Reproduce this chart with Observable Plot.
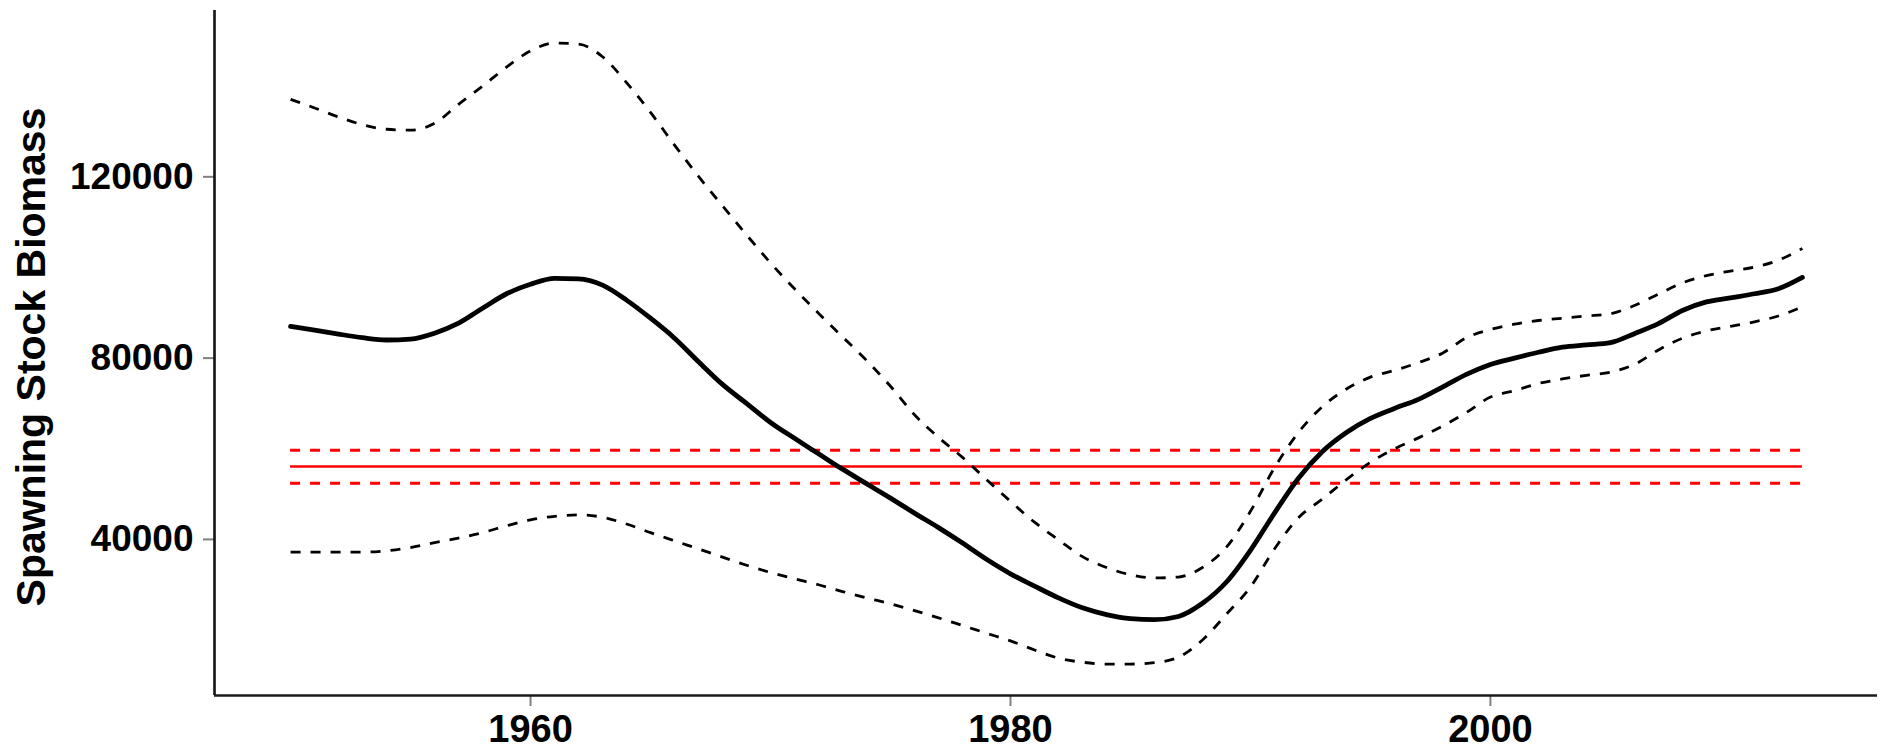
<!DOCTYPE html>
<html>
<head>
<meta charset="utf-8">
<script src="https://cdn.jsdelivr.net/npm/d3@7"></script>
<script src="https://cdn.jsdelivr.net/npm/@observablehq/plot@0.6"></script>
<style>
html, body { margin: 0; padding: 0; background: #fff; }
#chart { width: 1886px; height: 755px; }
</style>
</head>
<body>
<div id="chart"></div>
<script>
// ---- data ----
const years = [
  1950, 1951, 1952, 1953, 1954, 1955, 1956, 1957, 1958, 1959,
  1960, 1961, 1962, 1963, 1964, 1965, 1966, 1967, 1968, 1969,
  1970, 1971, 1972, 1973, 1974, 1975, 1976, 1977, 1978, 1979,
  1980, 1981, 1982, 1983, 1984, 1985, 1986, 1987, 1988, 1989,
  1990, 1991, 1992, 1993, 1994, 1995, 1996, 1997, 1998, 1999,
  2000, 2001, 2002, 2003, 2004, 2005, 2006, 2007, 2008, 2009,
  2010, 2011, 2012, 2013
];
const ssb = [
  87000, 86200, 85300, 84500, 84000, 84200, 85500, 87700, 91000, 94200,
  96300, 97600, 97500, 96100, 92800, 88800, 84400, 79200, 74200, 70000,
  65800, 62300, 58900, 55500, 52300, 49100, 45800, 42600, 39200, 35600,
  32400, 29700, 27100, 24900, 23400, 22500, 22300, 23000, 25900, 30600,
  37600, 45800, 53500, 59400, 63600, 66700, 68900, 70900, 73600, 76400,
  78600, 80000, 81300, 82400, 82900, 83400, 85400, 87600, 90500, 92400,
  93300, 94200, 95300, 97800
];
const ssbUpper = [
  137100, 135200, 133200, 131500, 130500, 130300, 131800, 136000, 140000, 144200,
  147800, 149500, 149300, 146500, 140800, 134200, 127000, 120100, 113600, 107200,
  101000, 95300, 89900, 84700, 79500, 73800, 67500, 62500, 58100, 53200,
  48400, 43800, 39900, 36200, 33800, 32200, 31500, 31700, 33800, 38300,
  46200, 55800, 63600, 69300, 73200, 75800, 77300, 79000, 81100, 84500,
  86300, 87500, 88300, 88800, 89300, 89800, 91600, 94100, 96600, 98200,
  99200, 100100, 101600, 104200
];
const ssbLower = [
  37200, 37200, 37200, 37200, 37500, 38200, 39300, 40300, 41500, 43000,
  44300, 45100, 45400, 44900, 43400, 41500, 39700, 37900, 36100, 34300,
  32700, 31300, 30000, 28500, 27100, 25800, 24300, 22700, 21000, 19300,
  17600, 15600, 13800, 12900, 12500, 12500, 12800, 14000, 17800, 23500,
  29500, 37900, 44800, 48900, 53200, 57000, 60000, 62400, 65000, 68000,
  71400, 72800, 74400, 75400, 76200, 76900, 78600, 81800, 84400, 86000,
  87000, 88000, 89300, 91300
];
const refPoint = [56100];          // reference level (solid red)
const refBounds = [59700, 52400];  // its bounds (dashed red)
const xTicks = [1960, 1980, 2000];
const yTicks = [40000, 80000, 120000];
const xDomain = [1946.83, 2016.13];
const yDomain = [5560, 156700];
const yLabel = "Spawning Stock Biomass";

// ---- table built from the arrays ----
const series = years.map((year, i) => ({year, ssb: ssb[i], upper: ssbUpper[i], lower: ssbLower[i]}));
const firstYear = years[0], lastYear = years[years.length - 1];
const font = "'Liberation Sans', Arial, Helvetica, sans-serif";

const chart = Plot.plot({
  width: 1886,
  height: 755,
  marginLeft: 214,
  marginRight: 9,
  marginTop: 10,
  marginBottom: 60,
  style: {fontFamily: font, fontWeight: "bold", background: "#fff", color: "#000"},
  x: {domain: xDomain},
  y: {domain: yDomain},
  marks: [
    Plot.ruleY(refBounds, {x1: () => firstYear, x2: () => lastYear, stroke: "#ff0000", strokeWidth: 3, strokeDasharray: "10,10"}),
    Plot.ruleY(refPoint, {x1: () => firstYear, x2: () => lastYear, stroke: "#ff0000", strokeWidth: 2.6}),
    Plot.lineY(series, {x: "year", y: "upper", stroke: "#000", strokeWidth: 2.8, strokeDasharray: "10,10", strokeLinecap: "butt", curve: "monotone-x"}),
    Plot.lineY(series, {x: "year", y: "lower", stroke: "#000", strokeWidth: 2.8, strokeDasharray: "10,10", strokeLinecap: "butt", curve: "monotone-x"}),
    Plot.lineY(series, {x: "year", y: "ssb", stroke: "#000", strokeWidth: 4.8, curve: "monotone-x"}),
    Plot.axisX(xTicks, {tickSize: 11, tickPadding: 9, stroke: "#808080", strokeWidth: 2, fill: "#000", fontSize: 38, fontWeight: "bold", tickFormat: d => String(d), label: null}),
    Plot.axisY(yTicks, {tickSize: 11, tickPadding: 10, stroke: "#808080", strokeWidth: 2, fill: "#000", fontSize: 37, fontWeight: "bold", tickFormat: d => String(d), label: null}),
    Plot.ruleX([xDomain[0]], {stroke: "#1a1a1a", strokeWidth: 2.7}),
    Plot.ruleY([yDomain[0]], {stroke: "#1a1a1a", strokeWidth: 2.7}),
    Plot.text([yLabel], {text: d => d, frameAnchor: "left", textAnchor: "middle", dx: -183, dy: 4, rotate: -90, fontSize: 41, fontWeight: "bold", fill: "#000"})
  ]
});
document.getElementById("chart").appendChild(chart);
</script>
</body>
</html>
